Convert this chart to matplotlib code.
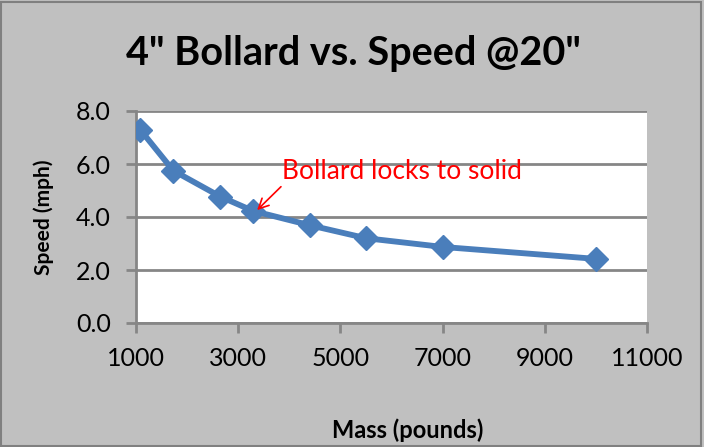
import matplotlib
matplotlib.use('Agg')
import matplotlib.pyplot as plt
from matplotlib.patches import Rectangle

# data
mass = [1080, 1730, 2650, 3290, 4400, 5500, 7000, 10000]
speed = [7.3, 5.75, 4.77, 4.23, 3.69, 3.2, 2.87, 2.42]
x_ticks = [1000, 3000, 5000, 7000, 9000, 11000]
y_ticks = [0.0, 2.0, 4.0, 6.0, 8.0]

plt.rcParams['font.family'] = ['Lato', 'DejaVu Sans']

bg = '#c0c0c0'
axis_gray = '#868686'
blue = '#4a7ebb'

fig = plt.figure(figsize=(7.04, 4.47), dpi=100, facecolor=bg)
W, H = 704, 447
ax = fig.add_axes([136 / W, 1 - 323 / H, (647 - 136) / W, (323 - 111) / H])
ax.set_facecolor('white')

ax.plot(mass, speed, color=blue, lw=4.2, marker='D', markersize=12,
        markerfacecolor=blue, markeredgecolor=blue, solid_joinstyle='round', zorder=3)

ax.set_xlim(1000, 11000)
ax.set_ylim(0, 8)
ax.set_xticks(x_ticks)
ax.set_yticks(y_ticks)
ax.set_xticklabels([str(v) for v in x_ticks])
ax.set_yticklabels([f'{v:.1f}' for v in y_ticks])
ax.yaxis.grid(True, color=axis_gray, lw=2)
ax.set_axisbelow(True)

for side in ['top', 'right']:
    ax.spines[side].set_visible(False)
for side in ['left', 'bottom']:
    ax.spines[side].set_color(axis_gray)
    ax.spines[side].set_linewidth(2)
ax.tick_params(axis='both', direction='out', length=7, width=2, color=axis_gray,
               labelsize=18, labelcolor='black')
ax.tick_params(axis='x', pad=10)
ax.tick_params(axis='y', pad=11)

ax.set_xlabel('Mass (pounds)', fontsize=17, fontweight='bold', va='center')
ax.xaxis.set_label_coords((408 - 136) / 511, -(430 - 323) / 212)
ax.set_ylabel('Speed (mph)', fontsize=15, fontweight='bold', va='center')
ax.yaxis.set_label_coords((44 - 136) / 511, 0.5)

fig.text(353 / W, 1 - 65 / H, '4" Bollard vs. Speed @20"', ha='center', va='baseline',
         fontsize=28.5, fontweight='bold')

ax.annotate('Bollard locks to solid', xy=(3370, 4.26), xytext=(3860, 5.72),
            color='red', fontsize=19, ha='left', va='center',
            arrowprops=dict(arrowstyle='->', color='red', lw=1.2, mutation_scale=18,
                            shrinkA=0, shrinkB=0, relpos=(0.06, 0.5)))

fig.patches.append(Rectangle((0.002, 0.003), 0.994, 0.993, transform=fig.transFigure,
                             fill=False, edgecolor='#808080', lw=1.5))

fig.savefig('out.png', dpi=100, facecolor=bg)
